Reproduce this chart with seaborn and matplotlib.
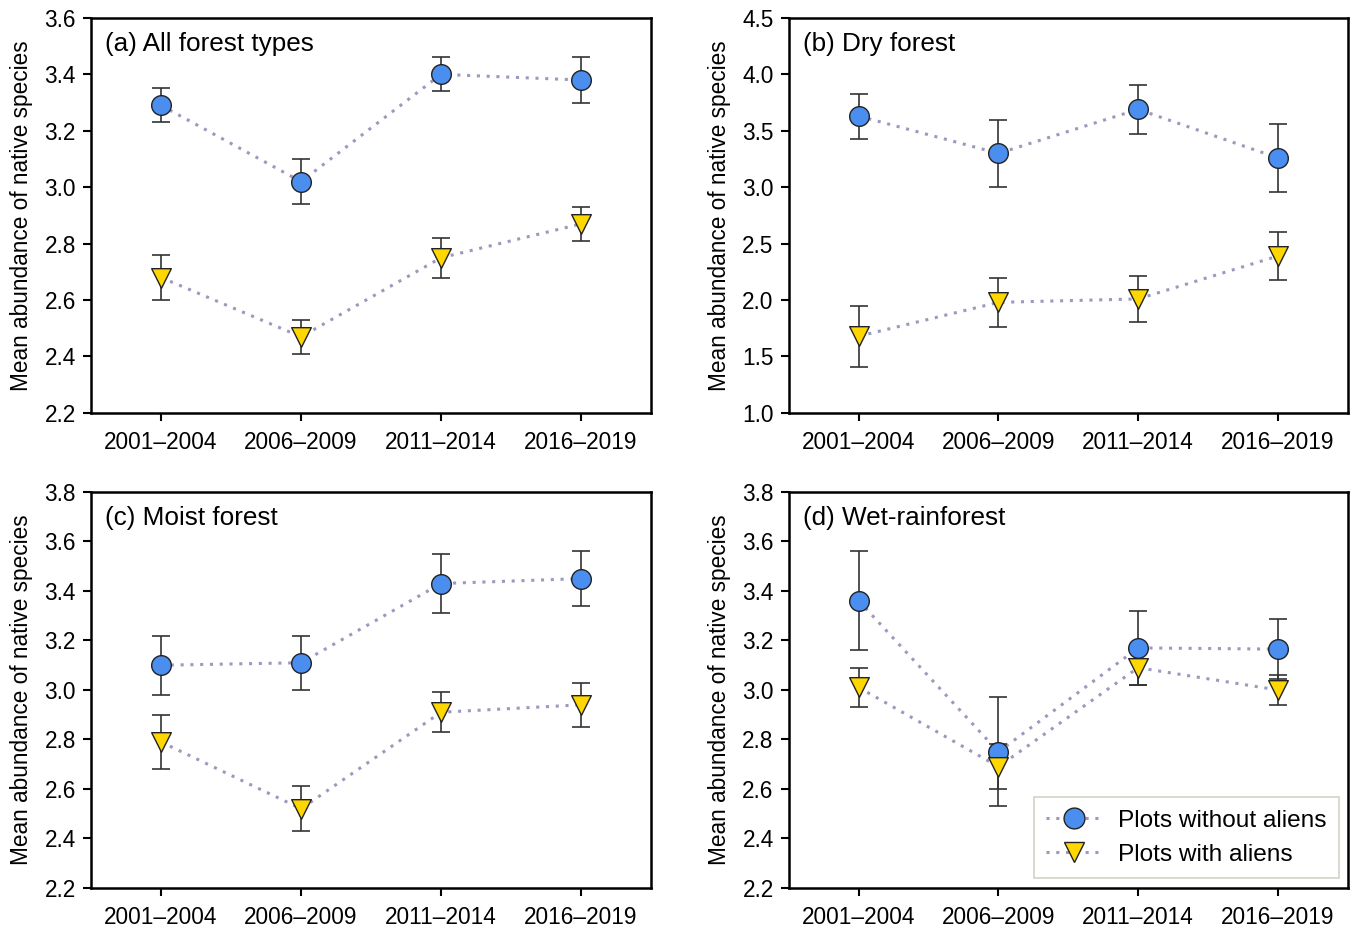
import numpy as np
import pandas as pd
import matplotlib
matplotlib.use("Agg")
import matplotlib.pyplot as plt
from matplotlib.lines import Line2D
import seaborn as sns

# data
periods = ["2001–2004", "2006–2009", "2011–2014", "2016–2019"]
groups = ["Plots without aliens", "Plots with aliens"]
panel_titles = ["(a) All forest types", "(b) Dry forest", "(c) Moist forest", "(d) Wet-rainforest"]

# means and error (half-length of the bars), per panel
a_without = [3.29, 3.02, 3.40, 3.38]
a_without_err = [0.06, 0.08, 0.06, 0.08]
a_with = [2.68, 2.47, 2.75, 2.87]
a_with_err = [0.08, 0.06, 0.07, 0.06]

b_without = [3.63, 3.30, 3.69, 3.26]
b_without_err = [0.20, 0.30, 0.22, 0.30]
b_with = [1.68, 1.98, 2.01, 2.39]
b_with_err = [0.27, 0.22, 0.20, 0.21]

c_without = [3.10, 3.11, 3.43, 3.45]
c_without_err = [0.12, 0.11, 0.12, 0.11]
c_with = [2.79, 2.52, 2.91, 2.94]
c_with_err = [0.11, 0.09, 0.08, 0.09]

d_without = [3.36, 2.75, 3.17, 3.165]
d_without_err = [0.20, 0.22, 0.15, 0.12]
d_with = [3.01, 2.69, 3.09, 3.00]
d_with_err = [0.08, 0.09, 0.07, 0.06]

# y-axis settings per panel
y_limits = [(2.2, 3.6), (1.0, 4.5), (2.2, 3.8), (2.2, 3.8)]
y_steps = [0.2, 0.5, 0.2, 0.2]

# build one long table
rows = []
panel_data = [
    (a_without, a_without_err, a_with, a_with_err),
    (b_without, b_without_err, b_with, b_with_err),
    (c_without, c_without_err, c_with, c_with_err),
    (d_without, d_without_err, d_with, d_with_err),
]
for p, (wo, wo_e, wi, wi_e) in enumerate(panel_data):
    for i, per in enumerate(periods):
        rows.append({"panel": p, "pos": i, "period": per, "group": groups[0], "mean": wo[i], "err": wo_e[i]})
        rows.append({"panel": p, "pos": i, "period": per, "group": groups[1], "mean": wi[i], "err": wi_e[i]})
df = pd.DataFrame(rows)

sns.set_style("white")
plt.rcParams["font.family"] = ["Liberation Sans", "DejaVu Sans"]
plt.rcParams["text.color"] = "black"
plt.rcParams["axes.labelcolor"] = "black"
plt.rcParams["xtick.color"] = "black"
plt.rcParams["ytick.color"] = "black"

colors = {groups[0]: "#4a8ef0", groups[1]: "#ffd700"}
markers = {groups[0]: "o", groups[1]: "v"}
sizes = {groups[0]: 200, groups[1]: 200}
line_col = "#9b99bd"
dots = (0, (1, 2.2))

fig = plt.figure(figsize=(13.51, 9.30), dpi=100)
boxes = [
    [0.0674, 0.556, 0.4145, 0.4247],
    [0.584, 0.556, 0.4135, 0.4247],
    [0.0674, 0.0452, 0.4145, 0.4258],
    [0.584, 0.0452, 0.4135, 0.4258],
]

for p in range(4):
    ax = fig.add_axes(boxes[p])
    sub = df[df["panel"] == p]
    for g in groups:
        gd = sub[sub["group"] == g]
        sns.lineplot(data=gd, x="pos", y="mean", ax=ax, color=line_col,
                     linestyle=dots, linewidth=2.2, zorder=1, legend=False)
        ax.errorbar(gd["pos"], gd["mean"], yerr=gd["err"], fmt="none",
                    ecolor="#333333", elinewidth=1.2, capsize=6.5, capthick=1.2, zorder=2)
        sns.scatterplot(data=gd, x="pos", y="mean", ax=ax, color=colors[g],
                        marker=markers[g], s=sizes[g],
                        edgecolor="#222222", linewidth=1.0, zorder=3, legend=False)

    lo, hi = y_limits[p]
    ax.set_ylim(lo, hi)
    ax.set_yticks(np.arange(lo, hi + 1e-9, y_steps[p]))
    ax.yaxis.set_major_formatter(matplotlib.ticker.FormatStrFormatter("%.1f"))
    ax.set_xlim(-0.5, len(periods) - 0.5)
    ax.set_xticks(range(len(periods)))
    ax.set_xticklabels(periods)
    ax.set_xlabel("")
    ax.set_ylabel("Mean abundance of native species", fontsize=16.3, labelpad=8)
    ax.tick_params(axis="both", which="both", direction="out", length=6, width=1.5,
                   labelsize=16.3, left=True, bottom=True, top=False, right=False, pad=5)
    ax.tick_params(axis="x", pad=7)
    for sp in ax.spines.values():
        sp.set_linewidth(1.8)
        sp.set_color("black")
    ax.text(0.025, 0.965, panel_titles[p], transform=ax.transAxes, fontsize=18.8,
            ha="left", va="top")

    if p == 3:
        handles = [
            Line2D([], [], color=line_col, linestyle=dots, linewidth=2.2,
                   marker=markers[g], markersize=15,
                   markerfacecolor=colors[g], markeredgecolor="#222222", markeredgewidth=1.0)
            for g in groups
        ]
        leg = ax.legend(handles, groups, loc="lower right", fontsize=17.6, frameon=True,
                        fancybox=False, edgecolor="#c8c8b8", handlelength=2.3,
                        borderpad=0.5, labelspacing=0.5, handletextpad=0.65,
                        borderaxespad=0, bbox_to_anchor=(0.984, 0.025))
        leg.get_frame().set_linewidth(1.2)

fig.savefig("out.png", dpi=100)
